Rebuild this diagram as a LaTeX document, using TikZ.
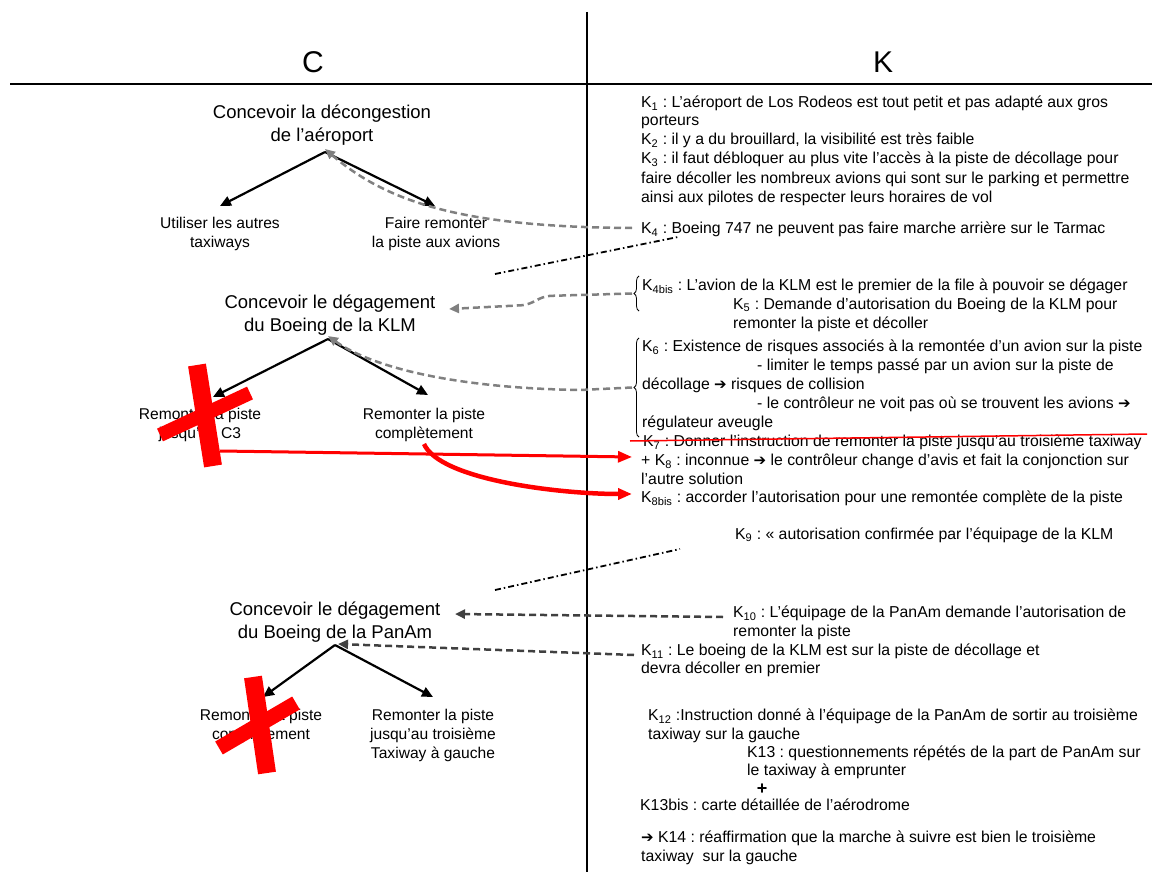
\documentclass[tikz,border=0pt]{standalone}
\usepackage{fontspec}
\setmainfont{Liberation Sans}
\newfontfamily\dejavu{DejaVu Sans}
\usetikzlibrary{arrows.meta,decorations.pathreplacing}
\frenchspacing
\newcommand{\Ksub}[1]{K\textsubscript{#1}}
\newcommand{\harr}{{\dejavu\fontsize{15}{17}\selectfont ➔}}
\definecolor{dgray}{HTML}{808080}
\definecolor{ddark}{HTML}{404040}
\definecolor{xred}{HTML}{FF0000}
\begin{document}
\begin{tikzpicture}[x=1pt,y=-1pt,
  rt/.style={anchor=base west, inner sep=0pt, font=\fontsize{15.8}{19}\selectfont},
  ttl/.style={anchor=base, inner sep=0pt, font=\fontsize{18.5}{22}\selectfont},
  chl/.style={anchor=base, inner sep=0pt, font=\fontsize{15.6}{19}\selectfont},
  hdr/.style={anchor=base, inner sep=0pt, font=\fontsize{30}{36}\selectfont},
  tree/.style={line width=2.2pt, -{Triangle[length=11pt,width=10pt]}},
  gdash/.style={dgray, line width=2.5pt, dash pattern=on 7pt off 4pt},
  gtip/.style={-{Triangle[length=10pt,width=9pt]}},
  ddash/.style={ddark, line width=2.5pt, dash pattern=on 7pt off 4pt, -{Triangle[length=10pt,width=9pt]}},
  dashdot/.style={black, line width=1.8pt, dash pattern=on 6pt off 3pt on 1.5pt off 3pt},
  redarr/.style={xred, -{Triangle[length=14pt,width=11pt]}},
  redx/.style={xred, line cap=butt},
  bracestyle/.style={line width=0.8pt, decorate, decoration={brace, amplitude=5pt}}
]
\useasboundingbox (0,0) rectangle (1152,872);

% frame lines
\coordinate (vtop) at (587,12);
\coordinate (vbot) at (587,872);
\coordinate (hleft) at (10,84);
\coordinate (hright) at (1152,84);
\draw[line width=1.2pt] (vtop) -- (vbot);
\draw[line width=1.6pt] (hleft) -- (hright);

\node[hdr] (hC) at (313,73) {C};
\node[hdr] (hK) at (883,73) {K};

% left column titles and children
\node[ttl] (t1a) at (322,118.6) {Concevoir la décongestion};
\node[ttl] (t1b) at (322,141.6) {de l’aéroport};
\node[chl] (c1a) at (220,228.6) {Utiliser les autres};
\node[chl] (c1b) at (220,247.6) {taxiways};
\node[chl] (c2a) at (436,228.6) {Faire remonter};
\node[chl] (c2b) at (436,247.6) {la piste aux avions};

\node[ttl] (t2a) at (330,308.6) {Concevoir le dégagement};
\node[ttl] (t2b) at (330,331.6) {du Boeing de la KLM};
\node[chl] (c3a) at (200,419.6) {Remonter la piste};
\node[chl] (c3b) at (200,438.6) {jusqu’au C3};
\node[chl] (c4a) at (424,419.6) {Remonter la piste};
\node[chl] (c4b) at (424,438.6) {complètement};

\node[ttl] (t3a) at (335,615.6) {Concevoir le dégagement};
\node[ttl] (t3b) at (335,638.6) {du Boeing de la PanAm};
\node[chl] (c5a) at (261,720.6) {Remonter la piste};
\node[chl] (c5b) at (261,739.6) {complètement};
\node[chl] (c6a) at (433,720.6) {Remonter la piste};
\node[chl] (c6b) at (433,739.6) {jusqu’au troisième};
\node[chl] (c6c) at (433,758.6) {Taxiway à gauche};

% right column texts
\node[rt] (k1a) at (641,107.5) {\Ksub{1} : L’aéroport de Los Rodeos est tout petit et pas adapté aux gros};
\node[rt] (k1b) at (641,125.5) {porteurs};
\node[rt] (k2) at (641,144.5) {\Ksub{2} : il y a du brouillard, la visibilité est très faible};
\node[rt] (k3a) at (641,163.5) {\Ksub{3} : il faut débloquer au plus vite l’accès à la piste de décollage pour};
\node[rt] (k3b) at (641,183) {faire décoller les nombreux avions qui sont sur le parking et permettre};
\node[rt] (k3c) at (641,202.5) {ainsi aux pilotes de respecter leurs horaires de vol};
\node[rt] (k4) at (641,233.5) {\Ksub{4} : Boeing 747 ne peuvent pas faire marche arrière sur le Tarmac};
\node[rt] (k4bis) at (642,290) {\Ksub{4bis} : L’avion de la KLM est le premier de la file à pouvoir se dégager};
\node[rt] (k5a) at (733,309) {\Ksub{5} : Demande d’autorisation du Boeing de la KLM pour};
\node[rt] (k5b) at (733,328) {remonter la piste et décoller};
\node[rt] (k6a) at (642,351.5) {\Ksub{6} : Existence de risques associés à la remontée d’un avion sur la piste};
\node[rt] (k6b) at (757,370.5) {- limiter le temps passé par un avion sur la piste de};
\node[rt] (k6c) at (642,389.5) {décollage \harr{} risques de collision};
\node[rt] (k6d) at (757,408.5) {- le contrôleur ne voit pas où se trouvent les avions \harr};
\node[rt] (k6e) at (642,427.5) {régulateur aveugle};
\node[rt] (k7) at (643,446.5) {\Ksub{7} : Donner l’instruction de remonter la piste jusqu’au troisième taxiway};
\node[rt] (k8a) at (641,465.5) {+ \Ksub{8} : inconnue \harr{} le contrôleur change d’avis et fait la conjonction sur};
\node[rt] (k8b) at (641,484.5) {l’autre solution};
\node[rt] (k8bis) at (641,502) {\Ksub{8bis} : accorder l’autorisation pour une remontée complète de la piste};
\node[rt] (k9) at (735,539) {\Ksub{9} : « autorisation confirmée par l’équipage de la KLM};
\node[rt] (k10a) at (733,617.5) {\Ksub{10} : L’équipage de la PanAm demande l’autorisation de};
\node[rt] (k10b) at (733,636.5) {remonter la piste};
\node[rt] (k11a) at (641,655.5) {\Ksub{11} : Le boeing de la KLM est sur la piste de décollage et};
\node[rt] (k11b) at (641,673.5) {devra décoller en premier};
\node[rt] (k12a) at (648,720.5) {\Ksub{12} :Instruction donné à l’équipage de la PanAm de sortir au troisième};
\node[rt] (k12b) at (648,739.5) {taxiway sur la gauche};
\node[rt] (k13a) at (747,757) {K13 : questionnements répétés de la part de PanAm sur};
\node[rt] (k13b) at (747,775.5) {le taxiway à emprunter};
\node[inner sep=0pt, font=\fontsize{18}{20}\selectfont\bfseries] (plus) at (762,789.5) {+};
\node[rt] (k13bis) at (640,810) {K13bis : carte détaillée de l’aérodrome};
\node[rt] (k14a) at (641,842) {\harr{} K14 : réaffirmation que la marche à suivre est bien le troisième};
\node[rt] (k14b) at (641,861.5) {taxiway\ \ sur la gauche};

% tree arrows
\coordinate (ap1) at (325,152);
\coordinate (tl1) at (220,206);
\coordinate (tr1) at (435,206);
\draw[tree] (ap1) -- (tl1);
\draw[tree] (ap1) -- (tr1);
\coordinate (ap2) at (328,339);
\coordinate (tl2) at (213,397);
\coordinate (tr2) at (428,395);
\draw[tree] (ap2) -- (tl2);
\draw[tree] (ap2) -- (tr2);
\coordinate (ap3) at (335,645);
\coordinate (tl3) at (263,697);
\coordinate (tr3) at (433,697);
\draw[tree] (ap3) -- (tl3);
\draw[tree] (ap3) -- (tr3);

% braces
\coordinate (b1bot) at (639,311);
\coordinate (b1top) at (639,276);
\draw[bracestyle] (b1bot) -- (b1top);
\coordinate (b1tip) at (632,293.5);
\coordinate (b2bot) at (639,437);
\coordinate (b2top) at (639,338);
\draw[bracestyle] (b2bot) -- (b2top);
\coordinate (b2tip) at (632,387.5);

% gray dashed connectors
\coordinate (k4end) at (632,228);
\draw[gdash, gtip] (k4end) .. controls (470,227) and (390,205) .. ([yshift=3pt]ap1);
\coordinate (t2right) at (449,309);
\draw[gdash, gtip, rounded corners=6pt] (b1tip) -- (545,296) -- (527,305) -- (t2right);
\draw[gdash, gtip] (b2tip) -- (580,390) .. controls (450,388) and (370,366) .. ([yshift=3pt]ap2);

% dark dashed connectors
\coordinate (k10end) at (723,617);
\coordinate (t3right) at (455,614);
\draw[ddash] (k10end) -- (t3right);
\coordinate (k11end) at (634,655);
\draw[ddash] (k11end) -- ([xshift=3pt,yshift=1pt]ap3);

% dash-dot separators
\coordinate (s1a) at (495,274);
\coordinate (s1b) at (678,237);
\draw[dashdot] (s1a) -- (s1b);
\coordinate (s2a) at (495,590);
\coordinate (s2b) at (680,549);
\draw[dashdot] (s2a) -- (s2b);

% red strike line on K7
\coordinate (sk1) at (630,441);
\coordinate (sk2) at (1147,434);
\draw[xred, line width=1.5pt] (sk1) -- (sk2);

% red arrows
\coordinate (rs1) at (220,451);
\coordinate (re1) at (632,457);
\draw[redarr, line width=3pt] (rs1) -- (re1);
\coordinate (rs2) at (424,444);
\coordinate (re2) at (632,494);
\draw[redarr, line width=4.5pt] (rs2) .. controls (440,480) and (560,494) .. (re2);

% red crosses
\coordinate (xa1) at (197,365);
\coordinate (xa2) at (213,466);
\coordinate (xb1) at (250,393);
\coordinate (xb2) at (160,435);
\draw[redx, line width=18pt] (xa1) -- (xa2);
\draw[redx, line width=14pt] (xb1) -- (xb2);
\coordinate (ya1) at (253,677);
\coordinate (ya2) at (267,773);
\coordinate (yb1) at (296,703);
\coordinate (yb2) at (219,748);
\draw[redx, line width=18pt] (ya1) -- (ya2);
\draw[redx, line width=15pt] (yb1) -- (yb2);
\end{tikzpicture}
\end{document}
